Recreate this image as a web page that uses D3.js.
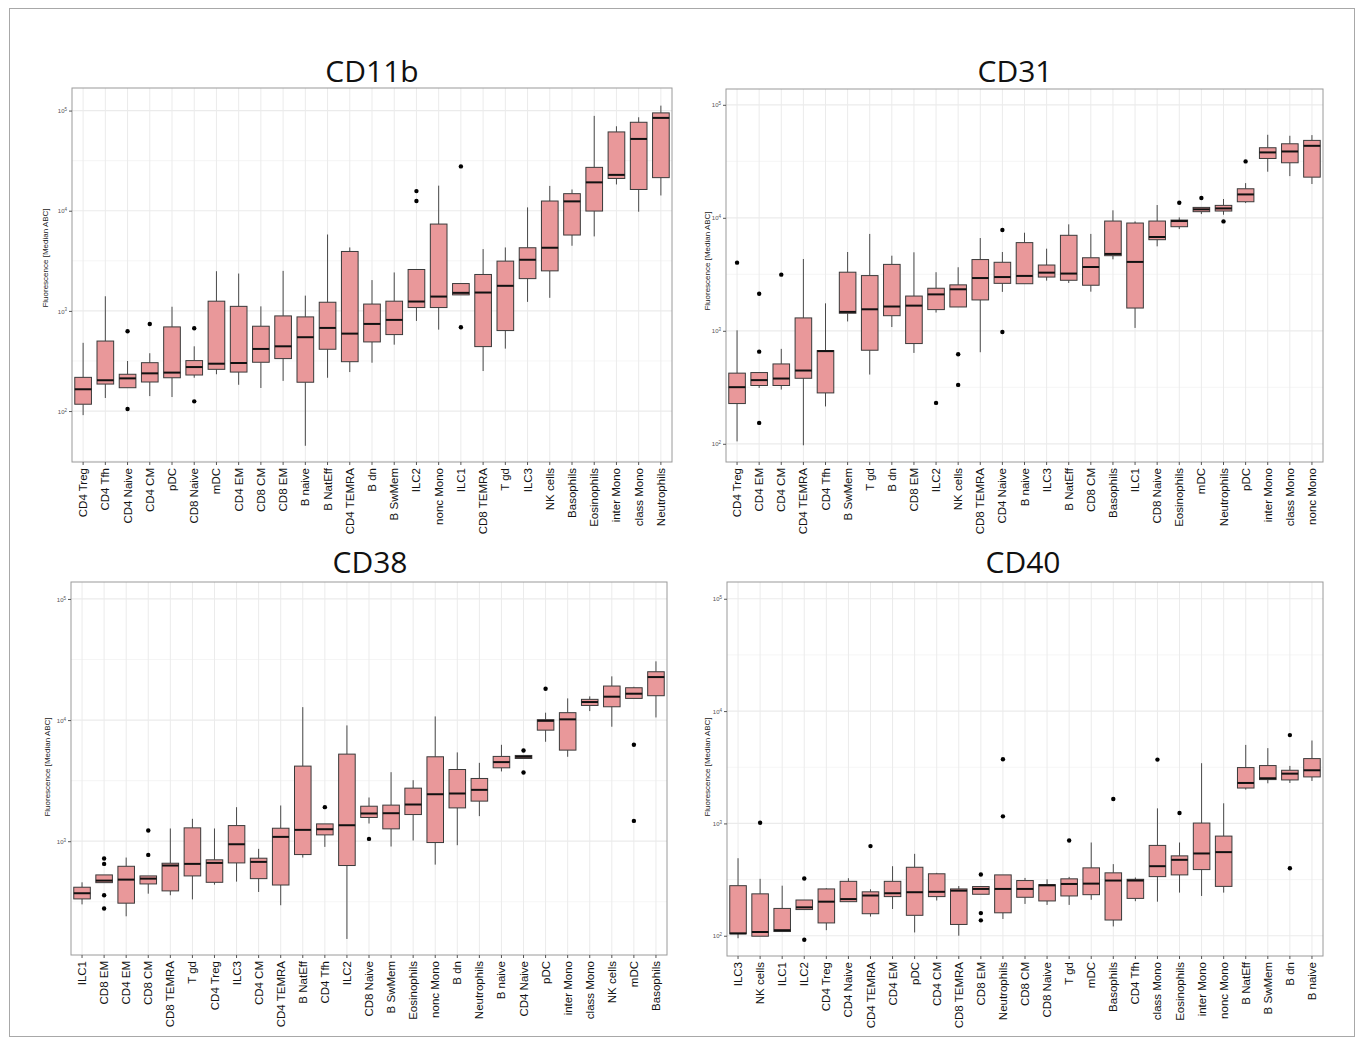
<!DOCTYPE html>
<html lang="en">
<head>
<meta charset="utf-8">
<title>Marker fluorescence by cell type</title>
<script src="https://d3js.org/d3.v7.min.js"></script>
<style>
  body { margin: 0; background: #fff; }
  svg { display: block; }
</style>
</head>
<body>
<script>
// ---- data: per marker, cell order + box stats [low, q1, median, q3, high] + outliers ----
const cd11bCats = ["CD4 Treg","CD4 Tfh","CD4 Naive","CD4 CM","pDC","CD8 Naive","mDC","CD4 EM","CD8 CM","CD8 EM","B naive","B NatEff","CD4 TEMRA","B dn","B SwMem","ILC2","nonc Mono","ILC1","CD8 TEMRA","T gd","ILC3","NK cells","Basophils","Eosinophils","inter Mono","class Mono","Neutrophils"];
const cd11bBox = [
  [91,117,165,217,480],[135,186,203,500,1400],[171,171,212,233,316],[141,195,238,304,378],
  [138,215,242,692,1100],[215,229,275,319,443],[233,261,297,1250,2490],[183,245,302,1110,2360],
  [170,307,417,703,1110],[200,334,443,891,2510],[45,194,546,871,1420],[215,414,676,1220,5790],
  [245,311,593,3920,4300],[304,490,741,1170,2030],[460,580,813,1250,2420],[794,1080,1240,2590,2590],
  [650,1080,1390,7360,17800],[1445,1445,1514,1875,1875],[251,440,1525,2310,4140],[420,636,1780,3140,4300],
  [1230,2100,3240,4270,10800],[1350,2510,4270,12500,17700],[4470,5720,12400,14800,16300],
  [5540,9930,19200,27100,88500],[18300,21000,22800,61200,69700],[9770,16300,52100,76400,85700],
  [14200,21400,84500,94800,112000]
];
const cd11bOut = [["CD4 Naive",626],["CD4 Naive",105],["CD4 CM",741],["CD8 Naive",671],["CD8 Naive",125],
  ["ILC2",15700],["ILC2",12500],["ILC1",27700],["ILC1",687]];

const cd31Cats = ["CD4 Treg","CD4 EM","CD4 CM","CD4 TEMRA","CD4 Tfh","B SwMem","T gd","B dn","CD8 EM","ILC2","NK cells","CD8 TEMRA","CD4 Naive","B naive","ILC3","B NatEff","CD8 CM","Basophils","ILC1","CD8 Naive","Eosinophils","mDC","Neutrophils","pDC","inter Mono","class Mono","nonc Mono"];
const cd31Box = [
  [105,227,317,422,1010],[312,328,366,427,427],[302,328,378,509,692],[97,380,445,1300,4320],
  [214,282,661,668,1750],[1210,1430,1470,3300,4980],[410,673,1550,3080,7200],[1080,1360,1640,3870,4620],
  [637,771,1670,2030,4950],[1450,1540,2100,2380,3300],[1625,1625,2330,2550,3650],[646,1875,2930,4270,6620],
  [2210,2630,2990,4040,4980],[2610,2610,3060,6030,7380],[2780,2990,3270,3820,5330],[2650,2800,3210,7000,8750],
  [2220,2530,3670,4430,7200],[4290,4620,4790,9360,11650],[1060,1590,4070,8990,9290],[5590,6400,6760,9360,12970],
  [7950,8340,9360,9550,10090],[10790,11330,11880,12360,12360],[10640,11480,12110,12880,14660],
  [13500,13870,16100,18070,20280],[25580,33500,37900,41690,54300],[23390,30690,38640,45190,53220],
  [19910,22900,43350,48420,53950]
];
const cd31Out = [["CD4 Treg",4010],["CD4 EM",2130],["CD4 EM",654],["CD4 EM",153],["CD4 CM",3140],
  ["ILC2",230],["NK cells",621],["NK cells",332],["CD4 Naive",7800],["CD4 Naive",977],
  ["Eosinophils",13600],["mDC",14960],["Neutrophils",9290],["pDC",31550]];

const cd38Cats = ["ILC1","CD8 EM","CD4 EM","CD8 CM","CD8 TEMRA","T gd","CD4 Treg","ILC3","CD4 CM","CD4 TEMRA","B NatEff","CD4 Tfh","ILC2","CD8 Naive","B SwMem","Eosinophils","nonc Mono","B dn","Neutrophils","B naive","CD4 Naive","pDC","inter Mono","class Mono","NK cells","mDC","Basophils"];
const cd38Box = [
  [301,334,372,417,458],[455,455,473,527,527],[240,308,482,621,733],[369,444,491,517,517],
  [358,389,630,658,1274],[331,517,650,1289,1531],[438,458,662,702,1274],[464,662,944,1346,1910],
  [381,491,675,724,865],[296,435,1086,1280,1972],[733,776,1241,4169,12790],[898,1128,1256,1390,1390],
  [156,630,1355,5236,9036],[1400,1570,1694,1945,2296],[904,1265,1703,1986,3715],[1013,1660,2009,2742,3190],
  [641,975,2443,4977,10720],[927,1884,2477,3908,5408],[1611,2143,2655,3296,4436],[3767,4036,4498,5012,6252],
  [4819,4819,4977,5105,5105],[6620,8260,9863,10070,11510],[4977,5650,10140,11510,15100],
  [11860,13210,14090,14830,15700],[8810,12880,15600,19100,22960],[15100,15100,16510,18490,18840],
  [10510,15890,22650,25060,30550]
];
const cd38Out = [["CD8 EM",719],["CD8 EM",650],["CD8 EM",358],["CD8 EM",278],["CD8 CM",1225],["CD8 CM",771],
  ["CD4 Tfh",1910],["CD8 Naive",1045],["CD4 Naive",5610],["CD4 Naive",3690],["pDC",18150],
  ["mDC",6252],["mDC",1472]];

const cd40Cats = ["ILC3","NK cells","ILC1","ILC2","CD4 Treg","CD4 Naive","CD4 TEMRA","CD4 EM","pDC","CD4 CM","CD8 TEMRA","CD8 EM","Neutrophils","CD8 CM","CD8 Naive","T gd","mDC","Basophils","CD4 Tfh","class Mono","Eosinophils","inter Mono","nonc Mono","B NatEff","B SwMem","B dn","B naive"];
const cd40Box = [
  [95,104,105,279,490],[99,99,108,236,321],[109,109,112,175,279],[171,171,179,208,208],
  [112,130,201,261,265],[201,201,212,305,325],[148,157,228,246,259],[173,223,239,305,416],
  [107,152,244,407,536],[206,223,246,356,363],[100,126,252,261,277],[234,234,261,274,277],
  [141,160,261,348,348],[192,220,261,310,327],[188,204,281,285,318],[188,226,289,321,334],
  [209,232,291,402,676],[121,138,310,363,434],[203,215,310,318,330],[201,336,416,637,1361],
  [242,348,474,514,676],[226,388,540,1007,3436],[242,275,555,771,1510],[2000,2065,2291,3141,5000],
  [2275,2455,2523,3273,4677],[2291,2438,2773,2972,3250],[2388,2594,2972,3776,5470]
];
const cd40Out = [["NK cells",1014],["ILC2",323],["ILC2",92],["CD4 TEMRA",628],["CD8 EM",351],["CD8 EM",159],
  ["CD8 EM",137],["Neutrophils",3724],["Neutrophils",1156],["T gd",705],["Basophils",1648],
  ["class Mono",3698],["Eosinophils",1236],["B dn",6110],["B dn",399]];

const majorTicks = [1e2, 1e3, 1e4, 1e5];

let w = 1357, h = 1039;
let svg = d3.select("body").append("svg")
    .attr("width", w)
    .attr("height", h)
    .style("background-color", "white");

// outer frame
svg.append("rect")
    .attr("x", 9.5).attr("y", 8.5)
    .attr("width", 1345).attr("height", 1028)
    .attr("fill", "none").attr("stroke", "#a8a8a8").attr("stroke-width", 1);

function drawPanel(p) {
    let g = svg.append("g");

    let x = d3.scaleBand().domain(p.cats).range([p.left, p.right]);
    let y = d3.scaleLog().domain([p.yMin, p.yMax]).range([p.bottom, p.top]);
    let bw = x.bandwidth();
    let cx = d => x(d) + bw / 2;

    let majors = majorTicks.filter(v => v >= p.yMin && v <= p.yMax);
    let minors = [];
    for (let e = 1; e <= 5; e++) {
        let v = Math.pow(10, e + 0.5);
        if (v >= p.yMin && v <= p.yMax) minors.push(v);
    }

    // grid
    g.selectAll(".minor").data(minors).enter().append("line")
        .attr("x1", p.left).attr("x2", p.right)
        .attr("y1", d => y(d)).attr("y2", d => y(d))
        .attr("stroke", "#f2f2f2").attr("stroke-width", 0.8);
    g.selectAll(".major").data(majors).enter().append("line")
        .attr("x1", p.left).attr("x2", p.right)
        .attr("y1", d => y(d)).attr("y2", d => y(d))
        .attr("stroke", "#ebebeb").attr("stroke-width", 1.2);
    g.selectAll(".vgrid").data(p.cats).enter().append("line")
        .attr("x1", cx).attr("x2", cx)
        .attr("y1", p.top).attr("y2", p.bottom)
        .attr("stroke", "#ebebeb").attr("stroke-width", 1);

    // boxes
    let rows = p.cats.map((c, i) => ({ cat: c, s: p.box[i] }));
    let bx = g.selectAll(".box").data(rows).enter().append("g");
    bx.append("line")
        .attr("x1", d => cx(d.cat)).attr("x2", d => cx(d.cat))
        .attr("y1", d => y(d.s[4])).attr("y2", d => y(d.s[3]))
        .attr("stroke", "#4a4a4a").attr("stroke-width", 1);
    bx.append("line")
        .attr("x1", d => cx(d.cat)).attr("x2", d => cx(d.cat))
        .attr("y1", d => y(d.s[1])).attr("y2", d => y(d.s[0]))
        .attr("stroke", "#4a4a4a").attr("stroke-width", 1);
    bx.append("rect")
        .attr("x", d => cx(d.cat) - bw * 0.375)
        .attr("width", bw * 0.75)
        .attr("y", d => y(d.s[3]))
        .attr("height", d => Math.max(1, y(d.s[1]) - y(d.s[3])))
        .attr("fill", "#e9989a")
        .attr("stroke", "#3a3a3a").attr("stroke-width", 1);
    bx.append("line")
        .attr("x1", d => cx(d.cat) - bw * 0.375).attr("x2", d => cx(d.cat) + bw * 0.375)
        .attr("y1", d => y(d.s[2])).attr("y2", d => y(d.s[2]))
        .attr("stroke", "#111").attr("stroke-width", 2);

    g.selectAll(".out").data(p.out).enter().append("circle")
        .attr("cx", d => cx(d[0])).attr("cy", d => y(d[1]))
        .attr("r", 2.2).attr("fill", "#000");

    // panel border
    g.append("rect")
        .attr("x", p.left).attr("y", p.top)
        .attr("width", p.right - p.left).attr("height", p.bottom - p.top)
        .attr("fill", "none").attr("stroke", "#9a9a9a").attr("stroke-width", 1);

    // y axis
    let ya = g.append("g")
        .attr("transform", "translate(" + p.left + ",0)")
        .call(d3.axisLeft(y).tickValues(majors).tickSize(3).tickFormat(""));
    ya.select(".domain").remove();
    ya.selectAll(".tick line").attr("stroke", "#555");
    ya.selectAll(".tick").each(function (d) {
        let t = d3.select(this).append("text")
            .attr("x", -5).attr("dy", "0.35em")
            .attr("text-anchor", "end")
            .attr("fill", "#555")
            .style("font-family", "Liberation Sans, Arial, sans-serif")
            .style("font-size", "6px")
            .text("10");
        t.append("tspan")
            .attr("dy", "-0.45em")
            .style("font-size", "4.5px")
            .text(Math.round(Math.log10(d)));
    });

    // x axis
    let xa = g.append("g")
        .attr("transform", "translate(0," + p.bottom + ")")
        .call(d3.axisBottom(x).tickSize(3));
    xa.select(".domain").remove();
    xa.selectAll(".tick line").attr("stroke", "#555");
    xa.selectAll(".tick text")
        .attr("transform", "rotate(-90)")
        .attr("x", -6).attr("y", 0).attr("dy", "0.35em")
        .attr("text-anchor", "end")
        .attr("fill", "#111")
        .style("font-family", "Liberation Sans, Arial, sans-serif")
        .style("font-size", "11.5px");

    // titles
    svg.append("text")
        .attr("x", p.titleX).attr("y", p.titleY)
        .attr("text-anchor", "middle")
        .style("font-family", "Open Sans, sans-serif")
        .style("font-size", "30px")
        .attr("fill", "#111")
        .text(p.title);

    svg.append("text")
        .attr("transform", "translate(" + p.yTitleX + "," + p.yTitleY + ") rotate(-90)")
        .attr("text-anchor", "middle")
        .style("font-family", "Liberation Sans, Arial, sans-serif")
        .style("font-size", "8px")
        .attr("fill", "#222")
        .text("Fluorescence [Median ABC]");
}

drawPanel({ title: "CD11b", cats: cd11bCats, box: cd11bBox, out: cd11bOut,
    left: 72, right: 672, top: 88, bottom: 462, yMin: 31, yMax: 168000,
    titleX: 372, titleY: 82, yTitleX: 48, yTitleY: 258 });
drawPanel({ title: "CD31", cats: cd31Cats, box: cd31Box, out: cd31Out,
    left: 726, right: 1323, top: 89, bottom: 462, yMin: 69, yMax: 138000,
    titleX: 1015, titleY: 82, yTitleX: 710, yTitleY: 261 });
drawPanel({ title: "CD38", cats: cd38Cats, box: cd38Box, out: cd38Out,
    left: 71, right: 667, top: 582, bottom: 955, yMin: 115, yMax: 138000,
    titleX: 370, titleY: 573, yTitleX: 50, yTitleY: 767 });
drawPanel({ title: "CD40", cats: cd40Cats, box: cd40Box, out: cd40Out,
    left: 727, right: 1323, top: 582, bottom: 956, yMin: 66, yMax: 141000,
    titleX: 1023, titleY: 573, yTitleX: 710, yTitleY: 767 });
</script>
</body>
</html>
